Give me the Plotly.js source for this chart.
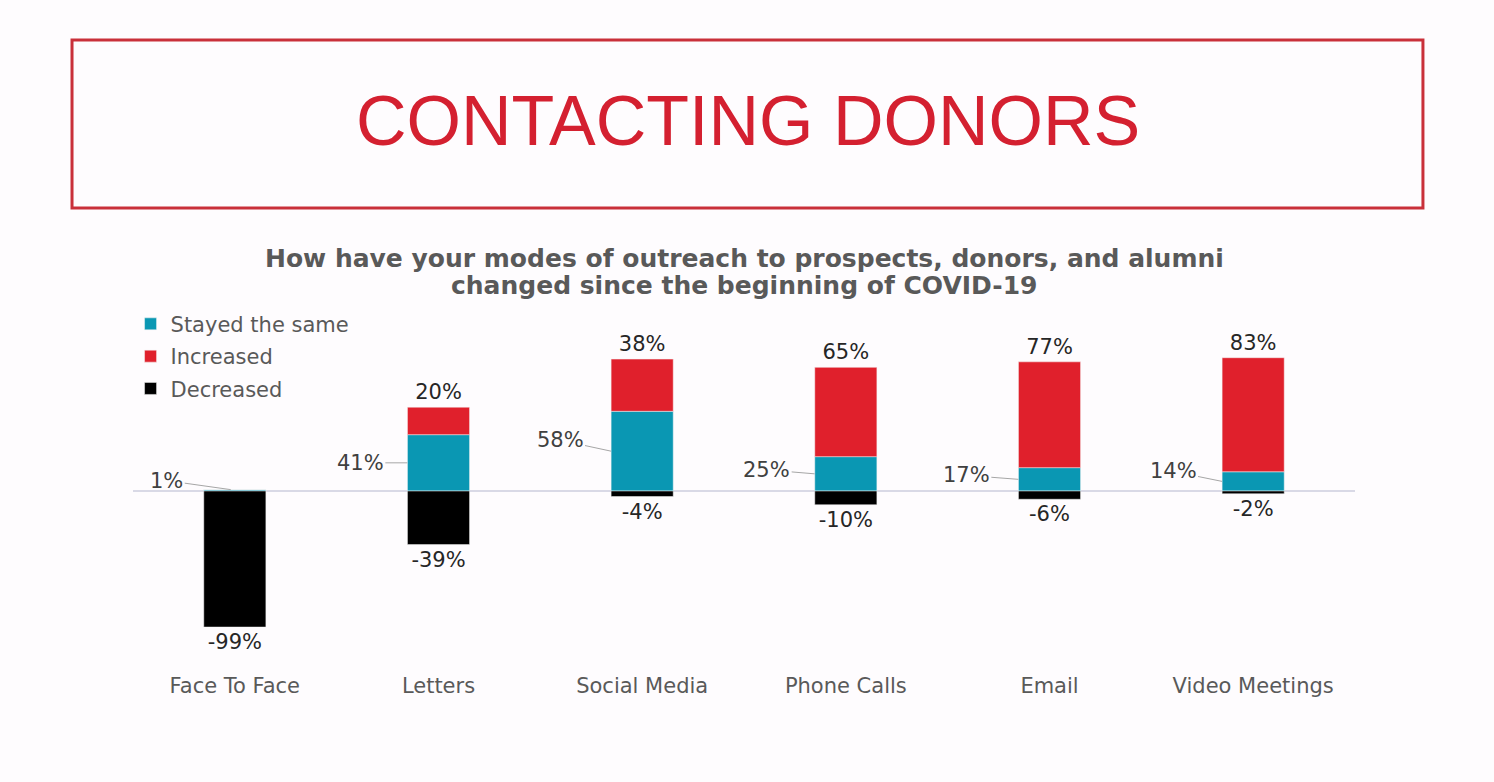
<!DOCTYPE html>
<html>
<head>
<meta charset="utf-8">
<script src="https://cdn.plot.ly/plotly-3.0.1.min.js"></script>
<style>
  html, body { margin: 0; padding: 0; background: #fefcfe; }
  #chart { width: 1494px; height: 782px; }
</style>
</head>
<body>
<div id="chart"></div>
<script>

var categories = ['Face To Face', 'Letters', 'Social Media', 'Phone Calls', 'Email', 'Video Meetings'];
var stayedSame = [1, 41, 58, 25, 17, 14];
var increased  = [0, 20, 38, 65, 77, 83];
var decreased  = [-99, -39, -4, -10, -6, -2];

// pixel offsets of the "stayed the same" labels from the bar edge
var stayedLabelDx = [-64, -47, -51, -48, -52, -49];
var stayedLabelDy = [-9, 0, -11, -4, -4, -10];

var TEAL = '#0a97b3';
var RED = '#e0202c';
var BLACK = '#000000';
var LABEL = '#262626';
var GREY = '#595959';

function pct(v) {
  return v ? v + '%' : '';
}

var trace1 = {
  x: categories,
  y: stayedSame,
  name: 'Stayed the same',
  legendgroup: 'a',
  type: 'bar',
  marker: {color: TEAL, line: {color: '#f4f4f4', width: 0.5}},
  hoverinfo: 'skip'
};

var trace2 = {
  x: categories,
  y: increased,
  name: 'Increased',
  legendgroup: 'b',
  type: 'bar',
  text: increased.map(pct),
  textposition: 'outside',
  constraintext: 'none',
  cliponaxis: false,
  textfont: {family: 'DejaVu Sans', size: 21, color: LABEL},
  marker: {color: RED, line: {color: '#f4f4f4', width: 0.5}},
  hoverinfo: 'skip'
};

var trace3 = {
  x: categories,
  y: decreased,
  name: 'Decreased',
  legendgroup: 'c',
  type: 'bar',
  text: decreased.map(pct),
  textposition: 'outside',
  constraintext: 'none',
  cliponaxis: false,
  textfont: {family: 'DejaVu Sans', size: 21, color: LABEL},
  marker: {color: BLACK, line: {color: '#f4f4f4', width: 0.5}},
  hoverinfo: 'skip'
};

var annotations = [];

annotations.push({
  xref: 'paper', yref: 'paper',
  x: 0.503, y: 1.486,
  xanchor: 'center', yanchor: 'middle',
  text: 'CONTACTING DONORS',
  showarrow: false,
  font: {family: 'Liberation Sans', size: 70, color: '#d42030'}
});

// two subtitle lines placed one by one to keep the tight line spacing
var subtitleLines = ['How have your modes of outreach to prospects, donors, and alumni',
                     'changed since the beginning of COVID-19'];
var subtitleY = [1.113, 1.040];
for (let k = 0; k < subtitleLines.length; k++) {
  annotations.push({
    xref: 'paper', yref: 'paper',
    x: 0.5, y: subtitleY[k],
    xanchor: 'center', yanchor: 'middle',
    text: '<b>' + subtitleLines[k] + '</b>',
    showarrow: false,
    font: {family: 'DejaVu Sans', size: 25, color: GREY}
  });
}

for (let i = 0; i < categories.length; i++) {
  annotations.push({
    x: i - (i === 0 ? 0.02 : 0.153),
    y: i === 0 ? stayedSame[i] : stayedSame[i] / 2,
    xref: 'x', yref: 'y',
    text: stayedSame[i] + '%',
    showarrow: true,
    arrowhead: 0,
    arrowwidth: 1,
    arrowcolor: '#a6a6a6',
    ax: stayedLabelDx[i],
    ay: stayedLabelDy[i],
    standoff: 0,
    font: {family: 'DejaVu Sans', size: 21, color: '#404040'}
  });
}

var layout = {
  width: 1494,
  height: 782,
  margin: {l: 133, r: 139, t: 300, b: 114},
  paper_bgcolor: '#fefcfe',
  plot_bgcolor: '#fefcfe',
  barmode: 'relative',
  bargap: 0.695,
  showlegend: true,
  legend: {
    x: -0.002, y: 0.99,
    xanchor: 'left', yanchor: 'top',
    traceorder: 'grouped',
    tracegroupgap: 2,
    bgcolor: 'rgba(0,0,0,0)',
    font: {family: 'DejaVu Sans', size: 21, color: GREY}
  },
  xaxis: {
    type: 'category',
    range: [-0.5, 5.5],
    showline: false,
    showgrid: false,
    ticks: '',
    ticklabelstandoff: 3,
    tickfont: {family: 'DejaVu Sans', size: 21, color: GREY},
    fixedrange: true
  },
  yaxis: {
    range: [-128.8, 139],
    showgrid: false,
    showticklabels: false,
    zeroline: true,
    zerolinecolor: '#d9d9e6',
    zerolinewidth: 1.5,
    fixedrange: true
  },
  shapes: [{
    type: 'rect',
    xref: 'paper', yref: 'paper',
    x0: -0.0499, x1: 1.0556,
    y0: 1.25, y1: 1.7065,
    line: {color: '#c9303a', width: 3},
    fillcolor: 'rgba(0,0,0,0)'
  }],
  annotations: annotations
};

Plotly.newPlot('chart', [trace1, trace2, trace3], layout, {displayModeBar: false, staticPlot: true});

</script>
</body>
</html>
